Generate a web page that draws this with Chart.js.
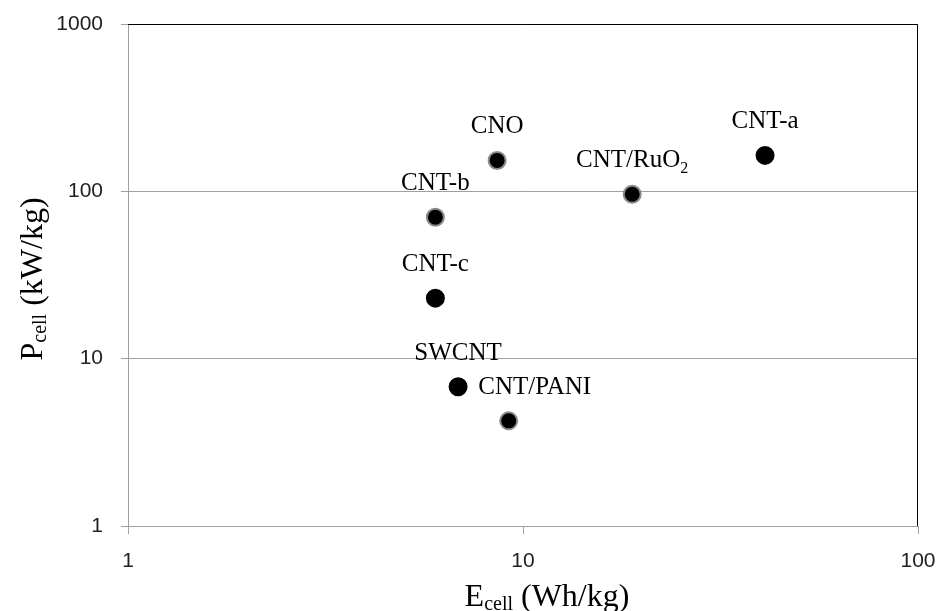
<!DOCTYPE html>
<html>
<head>
<meta charset="utf-8">
<script src="https://cdn.jsdelivr.net/npm/chart.js@4.4.1/dist/chart.umd.min.js"></script>
<style>
  html, body { margin: 0; padding: 0; background: #fff; }
  #wrap { width: 940px; height: 611px; }
</style>
</head>
<body>
<div id="wrap"><canvas id="chart"></canvas></div>
<script>
// data
const materials = ['CNO', 'CNT/RuO_2', 'CNT-a', 'CNT-b', 'CNT-c', 'SWCNT', 'CNT/PANI'];
const energy = [8.6, 18.9, 41, 6.0, 6.0, 6.85, 9.2];     // Wh/kg
const power = [153, 96, 164, 70, 23, 6.8, 4.25];          // kW/kg
const haloPoints = ['CNO', 'CNT/RuO_2', 'CNT-b', 'CNT/PANI'];
const xTicks = [1, 10, 100];
const yTicks = [1, 10, 100, 1000];

const serif = '"Liberation Serif", "Times New Roman", serif';
const sans = '"Liberation Sans", Arial, sans-serif';

// draw "Base_sub rest" text with a subscript
function drawSub(ctx, x, y, base, sub, rest, size, drop) {
  const subSize = Math.round(size * 0.64);
  ctx.font = size + 'px ' + serif;
  const wb = ctx.measureText(base).width;
  const wr = ctx.measureText(rest).width;
  ctx.font = subSize + 'px ' + serif;
  const ws = ctx.measureText(sub).width;
  const sx = x - (wb + ws + wr) / 2;
  ctx.textAlign = 'left';
  ctx.textBaseline = 'alphabetic';
  ctx.font = size + 'px ' + serif;
  ctx.fillText(base, sx, y);
  ctx.font = subSize + 'px ' + serif;
  ctx.fillText(sub, sx + wb, y + drop);
  ctx.font = size + 'px ' + serif;
  ctx.fillText(rest, sx + wb + ws, y);
}

const decorPlugin = {
  id: 'decor',
  afterDraw(chart) {
    const ctx = chart.ctx;
    const a = chart.chartArea;
    const xs = chart.scales.x, ys = chart.scales.y;
    ctx.save();
    // plot frame (top + right in black)
    ctx.strokeStyle = '#000';
    ctx.lineWidth = 1;
    ctx.beginPath();
    ctx.moveTo(a.left, a.top + 0.5);
    ctx.lineTo(a.right - 0.5, a.top + 0.5);
    ctx.lineTo(a.right - 0.5, a.bottom);
    ctx.stroke();

    // point labels
    ctx.fillStyle = '#000';
    materials.forEach((m, i) => {
      const px = xs.getPixelForValue(energy[i]);
      const py = ys.getPixelForValue(power[i]);
      const dx = m === 'CNT/PANI' ? 26 : 0;
      const parts = m.split('_');
      drawSub(ctx, px + dx, py - 27, parts[0], parts[1] || '', '', 25, 6);
    });

    // axis titles
    drawSub(ctx, 547, 606, 'E', 'cell', ' (Wh/kg)', 32, 4);
    ctx.translate(42, 279);
    ctx.rotate(-Math.PI / 2);
    drawSub(ctx, 0, 0, 'P', 'cell', ' (kW/kg)', 32, 4);
    ctx.restore();
  }
};

new Chart(document.getElementById('chart'), {
  type: 'scatter',
  data: {
    datasets: [{
      data: materials.map((m, i) => ({ x: energy[i], y: power[i] })),
      backgroundColor: '#000',
      borderColor: materials.map(m => haloPoints.includes(m) ? '#8a8a8a' : '#000'),
      borderWidth: 2,
      pointRadius: 8.5,
      pointHoverRadius: 8.5
    }]
  },
  options: {
    responsive: true,
    maintainAspectRatio: false,
    animation: false,
    layout: { padding: { top: 24, right: 22, left: 0, bottom: 0 } },
    plugins: {
      legend: { display: false },
      tooltip: { enabled: false }
    },
    scales: {
      x: {
        type: 'logarithmic',
        min: 1,
        max: 100,
        afterBuildTicks: s => { s.ticks = xTicks.map(v => ({ value: v })); },
        afterFit: s => { s.height = 85; s.paddingLeft = 0; s.paddingRight = 0; },
        grid: { drawOnChartArea: false, color: '#a0a0a0', tickLength: 8 },
        border: { color: '#a0a0a0' },
        ticks: {
          color: '#222',
          font: { family: sans, size: 21 },
          padding: 15,
          maxRotation: 0,
          callback: v => String(v)
        }
      },
      y: {
        type: 'logarithmic',
        min: 1,
        max: 1000,
        afterBuildTicks: s => { s.ticks = yTicks.map(v => ({ value: v })); },
        afterFit: s => { s.width = 128; s.paddingTop = 0; s.paddingBottom = 0; },
        grid: { color: '#a0a0a0', tickLength: 7 },
        border: { color: '#a0a0a0' },
        ticks: {
          color: '#222',
          font: { family: sans, size: 21 },
          padding: 18,
          callback: v => String(v)
        }
      }
    }
  },
  plugins: [decorPlugin]
});
</script>
</body>
</html>
